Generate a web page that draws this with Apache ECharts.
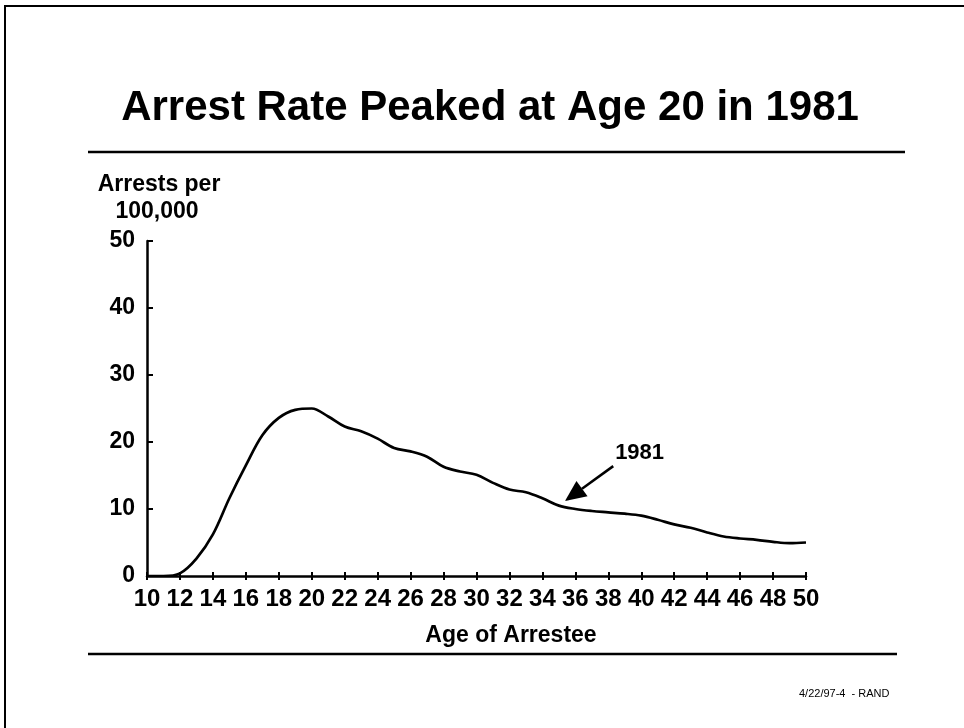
<!DOCTYPE html>
<html>
<head>
<meta charset="utf-8">
<script src="https://cdn.jsdelivr.net/npm/echarts@6/dist/echarts.min.js"></script>
<style>
  html, body { margin: 0; padding: 0; background: #ffffff; }
  #chart { width: 964px; height: 728px; }
</style>
</head>
<body>
<div id="chart"></div>
<script>
// Age of arrestee (years) and arrests per 100,000 in 1981
const ages = [10, 11, 12, 13, 14, 15, 16, 17, 18, 19, 20, 21, 22, 23, 24, 25, 26, 27, 28, 29, 30,
              31, 32, 33, 34, 35, 36, 37, 38, 39, 40, 41, 42, 43, 44, 45, 46, 47, 48, 49, 50];
const arrestRate1981 = [0.0, 0.0, 0.4, 2.6, 6.2, 11.6, 16.5, 21.0, 23.6, 24.8, 25.0, 23.8, 22.3, 21.6, 20.5, 19.1,
                        18.6, 17.8, 16.3, 15.6, 15.1, 13.9, 12.9, 12.5, 11.6, 10.5, 10.0, 9.7, 9.5, 9.3, 9.0,
                        8.4, 7.7, 7.2, 6.5, 5.9, 5.6, 5.4, 5.1, 4.9, 5.0];
const xTickRange = { min: 10, max: 50, step: 2 };
const yTickRange = { min: 0, max: 50, step: 10 };
const seriesName = '1981';

const FONT = '"Liberation Sans", Arial, Helvetica, sans-serif';
const chart = echarts.init(document.getElementById('chart'), null, { renderer: 'canvas' });

const baseX = {
  type: 'value',
  min: xTickRange.min,
  max: xTickRange.max,
  interval: xTickRange.step,
  position: 'bottom',
  splitLine: { show: false }
};

const option = {
  backgroundColor: '#ffffff',
  animation: false,
  grid: { left: 147, right: 158, top: 241, bottom: 152, containLabel: false },
  xAxis: [
    Object.assign({}, baseX, {
      axisLine: { show: true, lineStyle: { color: '#000', width: 2.5 } },
      axisTick: { show: true, inside: false, length: 4, lineStyle: { color: '#000', width: 2 } },
      axisLabel: { show: true, color: '#000', fontFamily: FONT, fontWeight: 'bold', fontSize: 24, margin: 11 }
    }),
    Object.assign({}, baseX, {
      axisLine: { show: false },
      axisTick: { show: true, inside: true, length: 4, lineStyle: { color: '#000', width: 2 } },
      axisLabel: { show: false }
    })
  ],
  yAxis: {
    type: 'value',
    min: yTickRange.min,
    max: yTickRange.max,
    interval: yTickRange.step,
    splitLine: { show: false },
    axisLine: { show: true, lineStyle: { color: '#000', width: 2.5 } },
    axisTick: { show: true, inside: true, length: 6, lineStyle: { color: '#000', width: 2 } },
    axisLabel: { color: '#000', fontFamily: FONT, fontWeight: 'bold', fontSize: 23, margin: 12 }
  },
  series: [{
    name: seriesName,
    type: 'line',
    xAxisIndex: 0,
    data: ages.map((a, i) => [a, arrestRate1981[i]]),
    smooth: 0.35,
    symbol: 'none',
    lineStyle: { color: '#000', width: 2.7 }
  }]
};

chart.setOption(option);

// Annotation arrow pointing at the curve, placed in data coordinates
const tip = chart.convertToPixel({ gridIndex: 0 }, [35.37, 11.2]);
const tail = chart.convertToPixel({ gridIndex: 0 }, [38.3, 16.4]);
const labelPos = chart.convertToPixel({ gridIndex: 0 }, [39.9, 18.4]);
const dx = tail[0] - tip[0], dy = tail[1] - tip[1];
const len = Math.sqrt(dx * dx + dy * dy);
const ux = dx / len, uy = dy / len;
const headLen = 21, headHalf = 9.5;
const bx = tip[0] + ux * headLen, by = tip[1] + uy * headLen;
const px = -uy, py = ux;

chart.setOption({
  graphic: [
    // slide frame
    { type: 'rect', shape: { x: 5, y: 6, width: 1000, height: 800 },
      style: { fill: 'none', stroke: '#000', lineWidth: 2 }, silent: true },
    // heading
    { type: 'text', x: 490, y: 108,
      style: { text: 'Arrest Rate Peaked at Age 20 in 1981', fill: '#000', fontFamily: FONT,
               fontWeight: 'bold', fontSize: 42, textAlign: 'center', textVerticalAlign: 'middle' } },
    // rules above and below the plot
    { type: 'line', shape: { x1: 88, y1: 152, x2: 905, y2: 152 }, style: { stroke: '#000', lineWidth: 2.5 } },
    { type: 'line', shape: { x1: 88, y1: 654, x2: 897, y2: 654 }, style: { stroke: '#000', lineWidth: 2.5 } },
    // y-axis title
    { type: 'text', x: 159, y: 185,
      style: { text: 'Arrests per', fill: '#000', fontFamily: FONT, fontWeight: 'bold', fontSize: 23,
               textAlign: 'center', textVerticalAlign: 'middle' } },
    { type: 'text', x: 157, y: 212,
      style: { text: '100,000', fill: '#000', fontFamily: FONT, fontWeight: 'bold', fontSize: 23,
               textAlign: 'center', textVerticalAlign: 'middle' } },
    // x-axis title
    { type: 'text', x: 511, y: 636,
      style: { text: 'Age of Arrestee', fill: '#000', fontFamily: FONT, fontWeight: 'bold', fontSize: 23,
               textAlign: 'center', textVerticalAlign: 'middle' } },
    // footer
    { type: 'text', x: 799, y: 694,
      style: { text: '4/22/97-4  - RAND', fill: '#000', fontFamily: FONT, fontSize: 11,
               textAlign: 'left', textVerticalAlign: 'middle' } },
    // series label and arrow
    { type: 'text', x: labelPos[0], y: labelPos[1],
      style: { text: seriesName, fill: '#000', fontFamily: FONT, fontWeight: 'bold', fontSize: 22,
               textAlign: 'center', textVerticalAlign: 'middle' } },
    { type: 'line', shape: { x1: tail[0], y1: tail[1], x2: bx, y2: by },
      style: { stroke: '#000', lineWidth: 2.5 } },
    { type: 'polygon',
      shape: { points: [[tip[0], tip[1]], [bx + px * headHalf, by + py * headHalf], [bx - px * headHalf, by - py * headHalf]] },
      style: { fill: '#000' } }
  ]
});
</script>
</body>
</html>
